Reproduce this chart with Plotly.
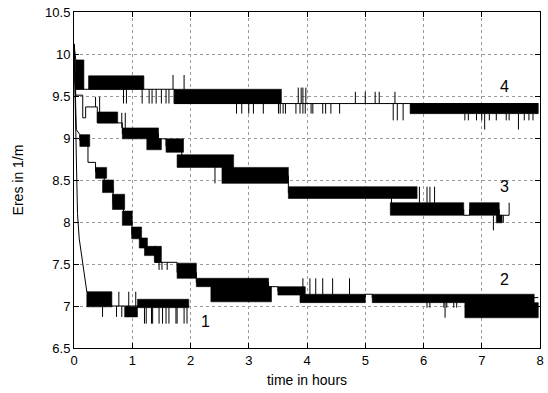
import plotly.graph_objects as go

# ---------------- data ----------------
# thin connecting path of each series: [time h, Eres]
s1_path = [[0, 10.12], [0.02, 9.3], [0.04, 8.5], [0.06, 8.1], [0.09, 7.8], [0.13, 7.6],
           [0.17, 7.45], [0.2, 7.3], [0.22, 7.17], [0.65, 7.0], [1.09, 7.0], [1.97, 7.0]]
s2_path = [[0, 10.12], [0.02, 9.4], [0.04, 9.1], [0.1, 9.04], [0.1, 8.97], [0.24, 8.97],
           [0.24, 8.71], [0.37, 8.71], [0.37, 8.6], [0.52, 8.6], [0.52, 8.4], [0.67, 8.4],
           [0.67, 8.22], [0.85, 8.22], [0.85, 8.02], [0.995, 8.02], [0.995, 7.85],
           [1.14, 7.85], [1.14, 7.75], [1.23, 7.75], [1.23, 7.65], [1.39, 7.65],
           [1.39, 7.52], [1.77, 7.52], [1.77, 7.4], [2.1, 7.4], [2.1, 7.28], [3.34, 7.28],
           [3.34, 7.23], [3.5, 7.23], [3.5, 7.18], [3.9, 7.18], [3.9, 7.1], [5.0, 7.1],
           [5.0, 7.14], [5.12, 7.14], [5.12, 7.1], [7.97, 7.1]]
s3_path = [[0, 10.12], [0.03, 9.51], [0.15, 9.51], [0.15, 9.24], [0.2, 9.24], [0.2, 9.37],
           [0.4, 9.37], [0.4, 9.18], [0.83, 9.18], [0.83, 9.05], [1.45, 9.05], [1.45, 8.99],
           [1.58, 8.99], [1.58, 8.9], [1.85, 8.9], [1.85, 8.72], [2.6, 8.72], [2.6, 8.55],
           [3.68, 8.55], [3.68, 8.35], [5.45, 8.35], [5.45, 8.15], [6.69, 8.15],
           [6.69, 8.08], [6.79, 8.08], [6.79, 8.15], [7.3, 8.15], [7.3, 8.08],
           [7.47, 8.08], [7.47, 8.23]]
s4_path = [[0, 10.12], [0.03, 9.93], [0.03, 9.58], [0.25, 9.58], [1.72, 9.58], [1.72, 9.41],
           [7.97, 9.41]]

# dense oscillation bands: [t start, t end, low level, high level]
s1_bands = [[0.22, 0.65, 6.99, 7.17], [0.87, 1.09, 6.87, 6.99], [1.09, 1.97, 6.98, 7.08]]
s2_bands = [[0.1, 0.27, 8.9, 9.04], [0.37, 0.56, 8.52, 8.65], [0.49, 0.68, 8.35, 8.5],
            [0.66, 0.87, 8.15, 8.33], [0.83, 1.0, 7.96, 8.13], [0.99, 1.16, 7.8, 7.94],
            [1.12, 1.26, 7.69, 7.81], [1.21, 1.41, 7.6, 7.71], [1.38, 1.5, 7.52, 7.71],
            [1.77, 2.1, 7.33, 7.51], [2.1, 3.34, 7.23, 7.33], [2.35, 3.39, 7.05, 7.23],
            [3.5, 3.97, 7.13, 7.23], [3.88, 5.0, 7.04, 7.14], [5.12, 7.9, 7.04, 7.14],
            [6.71, 7.97, 6.86, 7.04]]
s3_bands = [[0.4, 0.75, 9.18, 9.31], [0.83, 1.45, 8.99, 9.12], [1.25, 1.5, 8.86, 8.99],
            [1.58, 1.88, 8.83, 8.99], [1.77, 2.74, 8.65, 8.8], [2.54, 3.68, 8.46, 8.65],
            [3.68, 5.89, 8.28, 8.42], [5.43, 6.69, 8.08, 8.23], [6.79, 7.3, 8.08, 8.23],
            [7.25, 7.35, 7.99, 8.08]]
s4_bands = [[0.03, 0.17, 9.58, 9.93], [0.25, 1.2, 9.58, 9.74], [1.72, 3.56, 9.41, 9.58],
            [5.77, 7.97, 9.29, 9.41]]

# isolated spikes: [time, from level, to level]
s1_spikes = [[0.77, 7.0, 7.17], [0.94, 7.0, 7.17], [1.06, 7.0, 7.17],
             [0.49, 6.99, 6.87], [0.73, 7.0, 6.87], [0.82, 7.0, 6.87], [0.9, 7.0, 6.87],
             [0.92, 7.0, 6.87], [0.95, 7.0, 6.87],
             [1.21, 6.98, 6.79], [1.24, 6.98, 6.79], [1.33, 6.98, 6.79], [1.35, 6.98, 6.79],
             [1.46, 6.98, 6.79], [1.52, 6.98, 6.79], [1.58, 6.98, 6.79], [1.63, 6.98, 6.79],
             [1.75, 6.98, 6.79], [1.77, 6.98, 6.79], [1.89, 6.98, 6.79], [1.94, 6.98, 6.79]]
s2_spikes = [[1.46, 7.52, 7.43], [1.51, 7.52, 7.43], [1.6, 7.52, 7.43],
             [3.93, 7.14, 7.33], [4.05, 7.14, 7.33], [4.15, 7.14, 7.33], [4.27, 7.14, 7.33],
             [4.44, 7.14, 7.33], [4.73, 7.14, 7.33],
             [6.06, 7.04, 6.98], [6.11, 7.04, 6.98], [6.35, 7.04, 6.98], [6.4, 7.04, 6.98],
             [6.52, 7.04, 6.98], [6.57, 7.04, 6.98], [6.37, 7.04, 6.86]]
s3_spikes = [[0.37, 9.37, 9.49], [0.44, 9.31, 9.49], [0.82, 9.12, 9.3], [0.88, 9.12, 9.3],
             [2.42, 8.65, 8.46], [5.93, 8.23, 8.42], [6.06, 8.23, 8.42], [6.11, 8.23, 8.42],
             [6.19, 8.23, 8.42], [7.2, 8.08, 7.9], [7.37, 8.08, 7.99]]
s4_spikes = [[0.85, 9.58, 9.41], [0.9, 9.58, 9.41], [1.17, 9.58, 9.41], [1.29, 9.58, 9.41],
             [1.34, 9.58, 9.41], [1.41, 9.58, 9.41], [1.5, 9.58, 9.41], [1.58, 9.58, 9.41],
             [1.63, 9.58, 9.41], [1.7, 9.58, 9.75], [1.89, 9.58, 9.75],
             [2.79, 9.41, 9.29], [2.88, 9.41, 9.29], [3.0, 9.41, 9.29], [3.08, 9.41, 9.29],
             [3.25, 9.41, 9.29], [3.51, 9.41, 9.29], [3.54, 9.41, 9.29], [3.59, 9.41, 9.29],
             [3.63, 9.41, 9.29], [3.81, 9.41, 9.29], [3.88, 9.41, 9.29], [3.93, 9.41, 9.29],
             [3.97, 9.41, 9.29], [4.07, 9.41, 9.29], [4.1, 9.41, 9.29], [4.27, 9.41, 9.29],
             [4.32, 9.41, 9.29], [4.41, 9.41, 9.29], [4.56, 9.41, 9.29],
             [3.85, 9.41, 9.6], [3.9, 9.41, 9.6], [3.93, 9.41, 9.6], [3.98, 9.41, 9.6],
             [4.83, 9.41, 9.55], [5.0, 9.41, 9.55], [5.17, 9.41, 9.55], [5.24, 9.41, 9.55],
             [5.51, 9.41, 9.55], [5.48, 9.41, 9.21], [5.55, 9.41, 9.21], [5.65, 9.41, 9.21],
             [6.71, 9.29, 9.21], [6.77, 9.29, 9.21], [6.91, 9.29, 9.21], [7.0, 9.29, 9.21],
             [7.13, 9.29, 9.21], [7.25, 9.29, 9.21], [7.42, 9.29, 9.21], [7.47, 9.29, 9.21],
             [7.73, 9.29, 9.21], [7.81, 9.29, 9.21], [7.88, 9.29, 9.21],
             [7.05, 9.29, 9.1], [7.63, 9.29, 9.1]]

curve_labels = ["1", "2", "3", "4"]
label_pos = [[2.26, 6.81], [7.39, 7.31], [7.39, 8.42], [7.39, 9.61]]

x_ticks = [0, 1, 2, 3, 4, 5, 6, 7, 8]
y_ticks = [6.5, 7, 7.5, 8, 8.5, 9, 9.5, 10, 10.5]
y_tick_text = ["6.5", "7", "7.5", "8", "8.5", "9", "9.5", "10", "10.5"]

# ---------------- figure ----------------
fig = go.Figure()
FONT = "Liberation Sans, Arial, sans-serif"

for path, bands, spikes in [(s1_path, s1_bands, s1_spikes), (s2_path, s2_bands, s2_spikes),
                            (s3_path, s3_bands, s3_spikes), (s4_path, s4_bands, s4_spikes)]:
    bx, by = [], []
    for t0, t1, lo, hi in bands:
        bx += [t0, t1, t1, t0, t0, None]
        by += [lo, lo, hi, hi, lo, None]
    fig.add_trace(go.Scatter(x=bx, y=by, mode="lines", fill="toself", fillcolor="black",
                             line=dict(color="black", width=0.6), hoverinfo="skip",
                             showlegend=False))
    sx, sy = [], []
    for t, a, b in spikes:
        sx += [t, t, None]
        sy += [a, b, None]
    fig.add_trace(go.Scatter(x=sx, y=sy, mode="lines", line=dict(color="black", width=1),
                             hoverinfo="skip", showlegend=False))
    fig.add_trace(go.Scatter(x=[p[0] for p in path], y=[p[1] for p in path], mode="lines",
                             line=dict(color="black", width=1), showlegend=False))

for txt, (lx, ly) in zip(curve_labels, label_pos):
    fig.add_annotation(x=lx, y=ly, text=txt, showarrow=False,
                       font=dict(family=FONT, size=16, color="black"))

axis_common = dict(showline=True, linecolor="black", linewidth=1, mirror="ticks",
                   ticks="inside", ticklen=5, tickcolor="black", showgrid=True,
                   gridcolor="#9a9a9a", griddash="dot", gridwidth=1, zeroline=False,
                   tickfont=dict(family=FONT, size=13, color="black"))

fig.update_xaxes(range=[0, 8], tickvals=x_ticks,
                 title=dict(text="time in hours", font=dict(family=FONT, size=14, color="black"),
                            standoff=8), **axis_common)
fig.update_yaxes(range=[6.5, 10.5], tickvals=y_ticks, ticktext=y_tick_text,
                 title=dict(text="Eres in 1/m", font=dict(family=FONT, size=14, color="black"),
                            standoff=18), **axis_common)

fig.update_layout(width=548, height=393, margin=dict(l=74, r=4, t=12, b=45),
                  plot_bgcolor="white", paper_bgcolor="white",
                  font=dict(family=FONT, color="black"))

fig.write_html("out.html")
